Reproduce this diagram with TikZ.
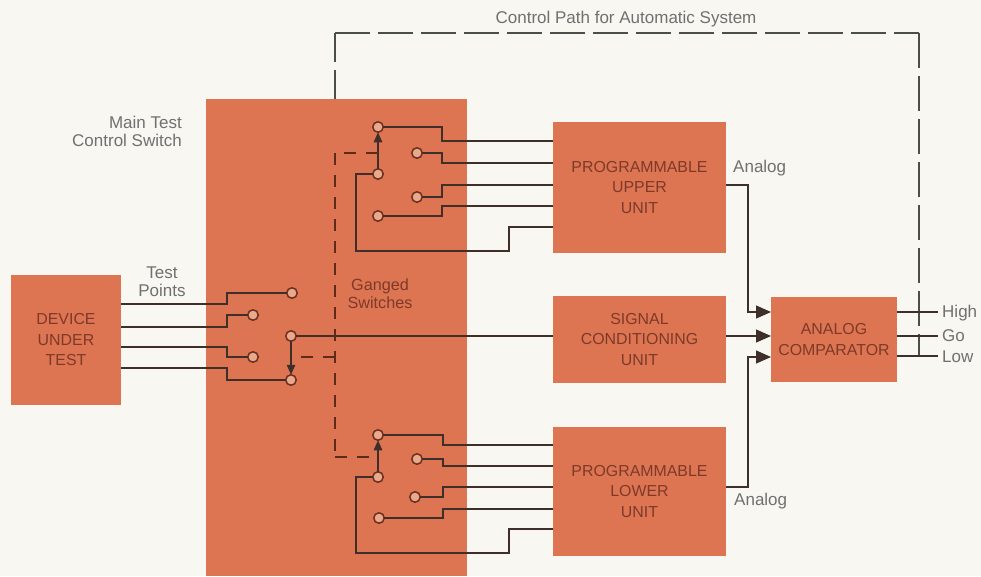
\documentclass[tikz,border=0pt]{standalone}
\usepackage{fontspec}
\setmainfont{Liberation Sans}
\usetikzlibrary{arrows.meta}
\definecolor{paper}{HTML}{F8F7F1}
\definecolor{boxc}{HTML}{DE7552}
\definecolor{wire}{HTML}{3E2F2A}
\definecolor{gwire}{HTML}{4A4F4C}
\definecolor{ictlc}{HTML}{5E2A1C}
\definecolor{ring}{HTML}{6E2F1E}
\definecolor{inner}{HTML}{E9A98C}
\definecolor{boxtext}{HTML}{7D3A28}
\definecolor{labelc}{HTML}{707070}
\tikzset{
  block/.style={fill=boxc,draw=none,inner sep=0pt,outer sep=0pt,align=center,text=boxtext,font=\fontsize{15.9}{20.5}\selectfont},
  contact/.style={circle,draw=ring,line width=1.5pt,fill=inner,minimum size=10.5pt,inner sep=0pt,outer sep=0pt},
  lab/.style={text=labelc,font=\fontsize{17}{18}\selectfont,inner sep=0pt,align=center},
  inlab/.style={lab,text=boxtext,font=\fontsize{16.2}{18}\selectfont},
  cw/.style={draw=wire,line width=1.2pt},
  ctl/.style={draw=gwire,line width=1.2pt,dash pattern=on 35pt off 8pt},
  ictl/.style={draw=ictlc,line width=1.2pt,dash pattern=on 12pt off 10pt},
  sw/.style={draw=wire,line width=1.2pt,-{Triangle[length=10pt,width=8.5pt]}},
  big/.style={draw=wire,line width=1.3pt,-{Triangle[length=15pt,width=13pt]}}
}
\begin{document}
\begin{tikzpicture}[x=1pt,y=-1pt]
\useasboundingbox (0,0) rectangle (981,576);
\fill[paper] (0,0) rectangle (981,576);
% blocks
\node[block,minimum width=261pt,minimum height=477pt] (main) at (336.5,337.5) {};
\node[block,minimum width=110pt,minimum height=130pt] (dut) at (66,340) {DEVICE\\UNDER\\TEST};
\node[block,minimum width=173pt,minimum height=131pt] (upper) at (639.5,187.5) {PROGRAMMABLE\\UPPER\\UNIT};
\node[block,minimum width=173pt,minimum height=87pt] (signal) at (639.5,339.5) {SIGNAL\\CONDITIONING\\UNIT};
\node[block,minimum width=173pt,minimum height=129pt] (lower) at (639.5,491.5) {PROGRAMMABLE\\LOWER\\UNIT};
\node[block,minimum width=126pt,minimum height=85pt] (comp) at (834,339.5) {ANALOG\\COMPARATOR};
% contacts
\node[contact] (ua) at (378,127) {};
\node[contact] (ub) at (417,153) {};
\node[contact] (uc) at (378,174) {};
\node[contact] (ud) at (417,197) {};
\node[contact] (ue) at (378,216) {};
\node[contact] (la) at (378,435) {};
\node[contact] (lb) at (417,459) {};
\node[contact] (lc) at (378,477) {};
\node[contact] (ld) at (415,497) {};
\node[contact] (le) at (379,518) {};
\node[contact] (ma) at (292,293) {};
\node[contact] (mb) at (253,315) {};
\node[contact] (mc) at (291,336) {};
\node[contact] (md) at (253,357) {};
\node[contact] (me) at (291,380) {};
% free ends
\coordinate (ctop) at (335,99);
\coordinate (cca) at (335,33);
\coordinate (ccb) at (919,33);
\coordinate (gtop) at (335,153);
\coordinate (gmid) at (335,357);
\coordinate (gbot) at (335,457);
\coordinate (uarm) at (378,153);
\coordinate (larm) at (378,457);
\coordinate (marm) at (291,357);
\coordinate (lowout) at (919,356);
% upper switch wires
\draw[cw] (ua) -- (442,127) -- (442,141) -- (553,141);
\draw[cw] (ub) -- (442,153) -- (442,163) -- (553,163);
\draw[cw] (ud) -- (442,197) -- (442,185) -- (553,185);
\draw[cw] (ue) -- (442,216) -- (442,206) -- (553,206);
\draw[cw] (uc) -- (356,174) -- (356,251) -- (509,251) -- (509,227) -- (553,227);
\draw[sw] (uc) -- (ua);
% lower switch wires
\draw[cw] (la) -- (443,435) -- (443,445) -- (553,445);
\draw[cw] (lb) -- (443,459) -- (443,466) -- (553,466);
\draw[cw] (ld) -- (443,497) -- (443,487) -- (553,487);
\draw[cw] (le) -- (443,518) -- (443,509) -- (553,509);
\draw[cw] (lc) -- (356,477) -- (356,553) -- (509,553) -- (509,529) -- (553,529);
\draw[sw] (lc) -- (la);
% middle switch wires
\draw[cw] (121,304) -- (227,304) -- (227,293) -- (ma);
\draw[cw] (121,327) -- (227,327) -- (227,315) -- (mb);
\draw[cw] (121,347) -- (227,347) -- (227,357) -- (md);
\draw[cw] (121,368) -- (227,368) -- (227,380) -- (me);
\draw[cw] (mc) -- (553,336);
\draw[sw] (mc) -- (me);
% ganged control
\draw[ictl] (uarm) -- (gtop);
\draw[ictl] (gtop) -- (gbot);
\draw[ictl] (gbot) -- (larm);
\draw[ictl] (gmid) -- (marm);
\draw[ctl,dash phase=6pt] (ctop) -- (cca);
\draw[ctl] (cca) -- (ccb);
\draw[ctl] (ccb) -- (lowout);
% analog paths
\draw[big] (726,185) -- (748,185) -- (748,312) -- (771,312);
\draw[big] (726,336) -- (771,336);
\draw[big] (726,487) -- (748,487) -- (748,357) -- (771,357);
\draw[cw] (897,312) -- (938,312);
\draw[cw] (897,336) -- (938,336);
\draw[cw] (897,356) -- (938,356);
% labels
\node[lab,anchor=center] (tc) at (626,19) {Control Path for Automatic System};
\node[lab,anchor=east,align=right] (tm) at (182,131) {Main Test\\Control Switch};
\node[lab] (tp) at (162,282) {Test\\Points};
\node[inlab] (tg) at (380,294) {Ganged\\Switches};
\node[lab,anchor=west] (ta) at (733,168) {Analog};
\node[lab,anchor=west] (tb) at (734,501) {Analog};
\node[lab,anchor=west] (th) at (942,313) {High};
\node[lab,anchor=west] (tgo) at (942,336) {Go};
\node[lab,anchor=west] (tl) at (942,357) {Low};
\end{tikzpicture}
\end{document}
